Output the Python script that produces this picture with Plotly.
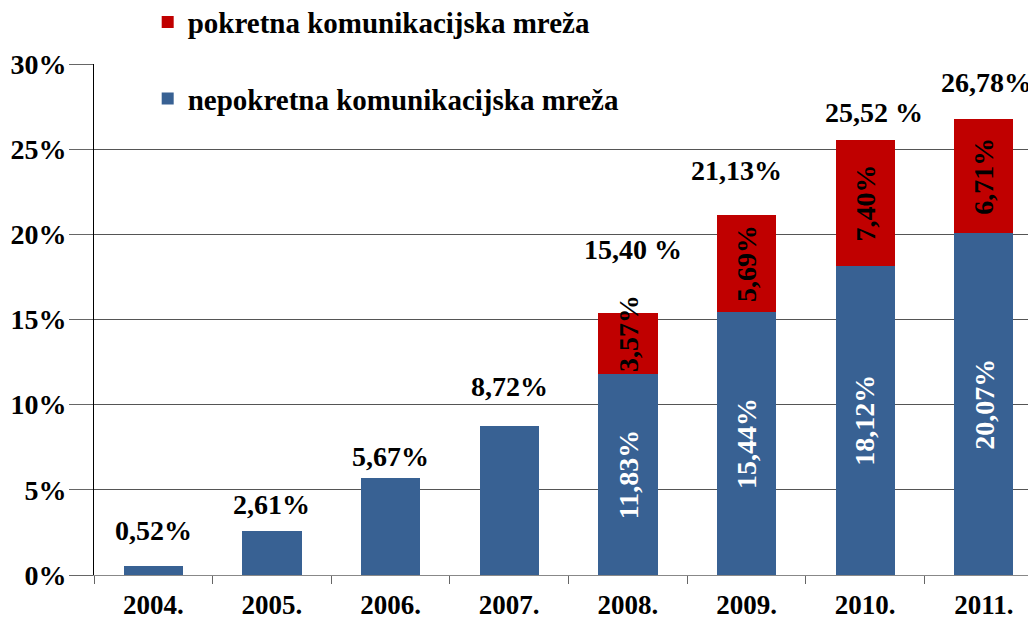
import plotly.graph_objects as go

years = ["2004.", "2005.", "2006.", "2007.", "2008.", "2009.", "2010.", "2011."]
fixed_net = [0.52, 2.61, 5.67, 8.72, 11.83, 15.44, 18.12, 20.07]
mobile_net = [None, None, None, None, 3.57, 5.69, 7.40, 6.71]
totals = [0.52, 2.61, 5.67, 8.72, 15.40, 21.13, 25.52, 26.78]
total_labels = ["0,52%", "2,61%", "5,67%", "8,72%", "15,40 %", "21,13%", "25,52 %", "26,78%"]
fixed_labels = [None, None, None, None, "11,83%", "15,44%", "18,12%", "20,07%"]
mobile_labels = [None, None, None, None, "3,57%", "5,69%", "7,40%", "6,71%"]
series_names = ["nepokretna komunikacijska mreža", "pokretna komunikacijska mreža"]
y_ticks = [0, 5, 10, 15, 20, 25, 30]
y_tick_text = ["0%", "5%", "10%", "15%", "20%", "25%", "30%"]

# label nudges in pixels (style only)
total_dx = [0, 0, 0, 0, 5, -10, 9, 3]
total_dy = [36, 26, 22, 40, 63, 45, 28, 36]
mobile_dy = [0, 0, 0, 0, 10, 0, 0, 0]

BLUE = "#386193"
RED = "#C00000"
FONT = "Liberation Serif"
LBL = 28

fig = go.Figure()
fig.add_trace(go.Bar(x=years, y=fixed_net, name="<b>" + series_names[0] + "</b>",
                     marker_color=BLUE, marker_line_width=0, width=0.5,
                     legendgroup="a", legendrank=2))
fig.add_trace(go.Bar(x=years, y=mobile_net, name="<b>" + series_names[1] + "</b>",
                     marker_color=RED, marker_line_width=0, width=0.5,
                     legendgroup="b", legendrank=1))

for i in range(len(years)):
    fig.add_annotation(x=i, y=totals[i], text="<b>" + total_labels[i] + "</b>", showarrow=False,
                       xshift=total_dx[i], yshift=total_dy[i],
                       font=dict(family=FONT, size=LBL, color="black"))
    if fixed_labels[i]:
        fig.add_annotation(x=i, y=fixed_net[i] / 2, text="<b>" + fixed_labels[i] + "</b>",
                           showarrow=False, textangle=-90,
                           font=dict(family=FONT, size=LBL, color="white"))
    if mobile_labels[i]:
        fig.add_annotation(x=i, y=fixed_net[i] + mobile_net[i] / 2,
                           text="<b>" + mobile_labels[i] + "</b>",
                           showarrow=False, textangle=-90, yshift=mobile_dy[i],
                           font=dict(family=FONT, size=LBL, color="black"))

fig.update_layout(
    barmode="stack",
    width=1036, height=621,
    margin=dict(l=86, r=8, t=56, b=54, autoexpand=False),
    paper_bgcolor="white", plot_bgcolor="white",
    font=dict(family=FONT, size=24, color="black"),
    showlegend=True,
    legend=dict(x=0.057, y=1.132, xanchor="left", yanchor="top",
                traceorder="grouped", tracegroupgap=36,
                font=dict(family=FONT, size=29, color="black"),
                bgcolor="rgba(0,0,0,0)"),
    xaxis=dict(type="category", range=[-0.5, 7.44], tickson="boundaries", ticks="outside",
               ticklen=8, tickcolor="#666", showline=True, linecolor="#888", linewidth=1,
               tickvals=years, ticktext=["<b>" + t + "</b>" for t in years],
               tickfont=dict(family=FONT, size=27), showgrid=False, automargin=False,
               ticklabelstandoff=6),
    yaxis=dict(range=[0, 30], tickvals=y_ticks, ticktext=["<b>" + t + "</b>" for t in y_tick_text],
               ticks="outside", ticklen=24, tickcolor="#666", showgrid=True, gridcolor="#555",
               gridwidth=1, showline=True, linecolor="black", linewidth=1,
               tickfont=dict(family=FONT, size=28), zeroline=False, automargin=False,
               ticklabelstandoff=-3),
)
fig.write_html("out.html")
